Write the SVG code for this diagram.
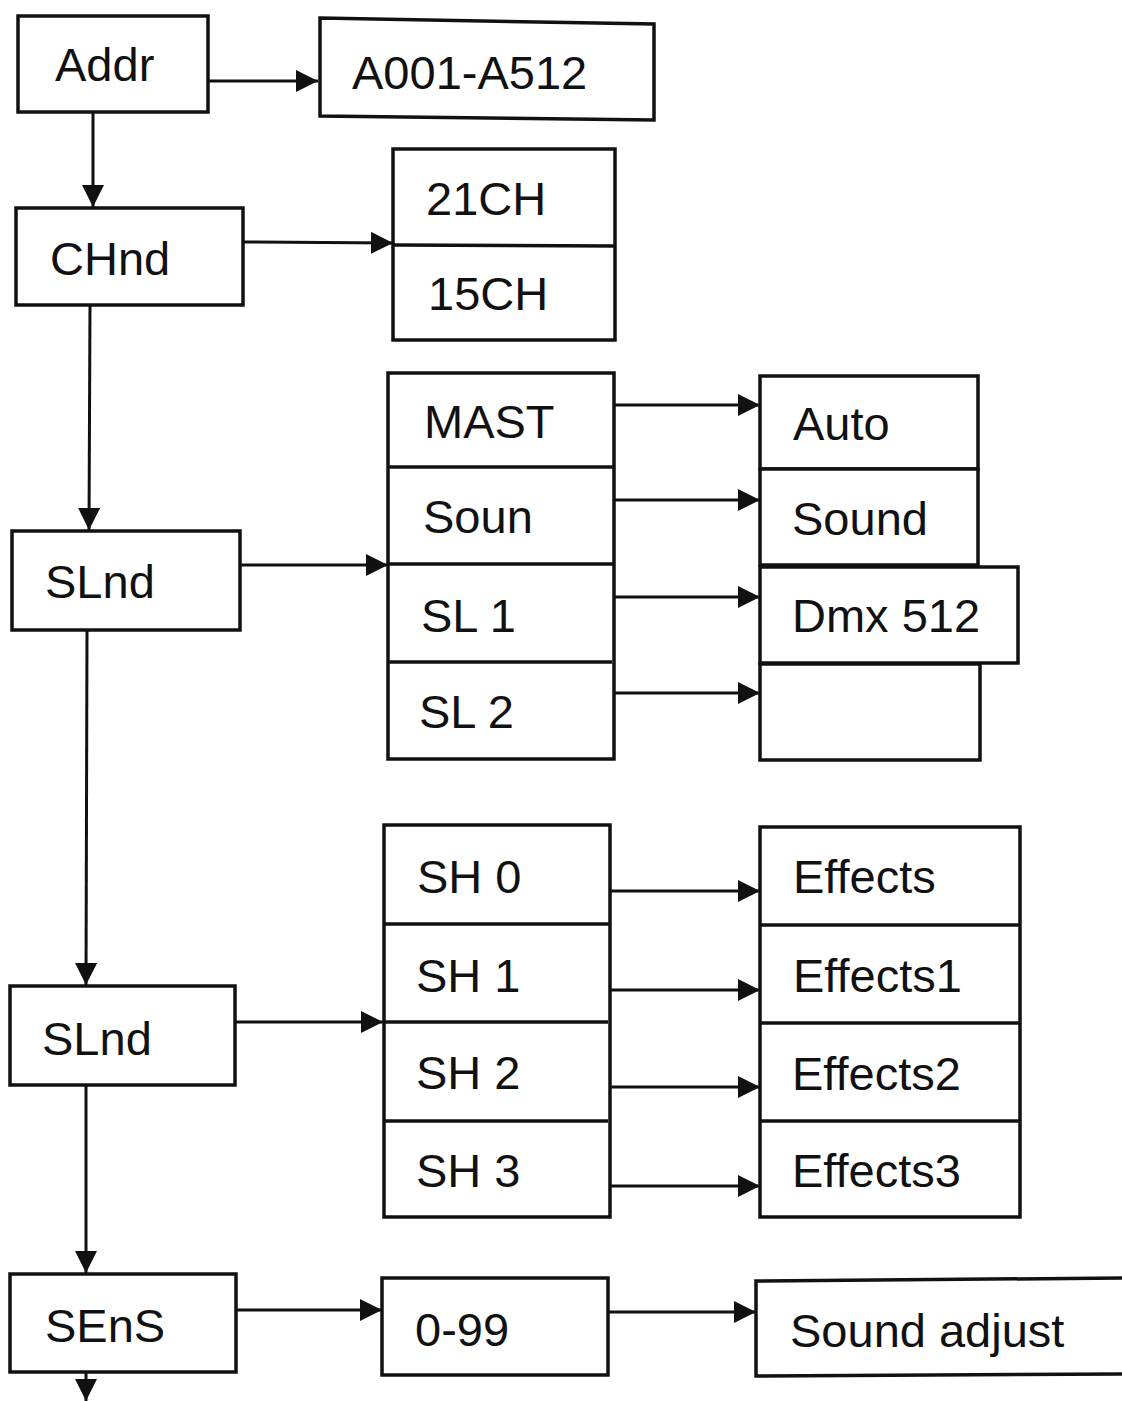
<svg xmlns="http://www.w3.org/2000/svg" width="1122" height="1401" viewBox="0 0 1122 1401">
<style>
.b{fill:#fff;stroke:#111;stroke-width:3.5}
.l{fill:none;stroke:#111;stroke-width:3.5}
.t{font-family:"Liberation Sans",Arial,sans-serif;font-size:47px;fill:#111}
.c{fill:none;stroke:#111;stroke-width:3}
</style>
<defs>
<marker id="ah" viewBox="0 0 10 10" refX="10" refY="5" markerWidth="22" markerHeight="22" markerUnits="userSpaceOnUse" orient="auto">
<path d="M0,0 L10,5 L0,10 Z" fill="#111"/>
</marker>
</defs>
<rect width="1122" height="1401" fill="#fff"/>
<g id="connectors">
<line class="c" x1="208" y1="81" x2="318" y2="81" marker-end="url(#ah)"/>
<line class="c" x1="93" y1="112" x2="93" y2="207" marker-end="url(#ah)"/>
<line class="c" x1="243" y1="242" x2="393" y2="243" marker-end="url(#ah)"/>
<line class="c" x1="90" y1="305" x2="89" y2="530" marker-end="url(#ah)"/>
<line class="c" x1="240" y1="565" x2="388" y2="565" marker-end="url(#ah)"/>
<line class="c" x1="614" y1="405" x2="760" y2="405" marker-end="url(#ah)"/>
<line class="c" x1="614" y1="500" x2="760" y2="500" marker-end="url(#ah)"/>
<line class="c" x1="614" y1="597" x2="760" y2="597" marker-end="url(#ah)"/>
<line class="c" x1="614" y1="693" x2="760" y2="693" marker-end="url(#ah)"/>
<line class="c" x1="87" y1="630" x2="86" y2="985" marker-end="url(#ah)"/>
<line class="c" x1="235" y1="1022" x2="383" y2="1022" marker-end="url(#ah)"/>
<line class="c" x1="610" y1="891" x2="760" y2="891" marker-end="url(#ah)"/>
<line class="c" x1="610" y1="990" x2="760" y2="990" marker-end="url(#ah)"/>
<line class="c" x1="610" y1="1087" x2="760" y2="1087" marker-end="url(#ah)"/>
<line class="c" x1="610" y1="1186" x2="760" y2="1186" marker-end="url(#ah)"/>
<line class="c" x1="86" y1="1085" x2="86" y2="1273" marker-end="url(#ah)"/>
<line class="c" x1="236" y1="1310" x2="382" y2="1310" marker-end="url(#ah)"/>
<line class="c" x1="608" y1="1312" x2="756" y2="1312" marker-end="url(#ah)"/>
<line class="c" x1="86" y1="1372" x2="86" y2="1401" marker-end="url(#ah)"/>
</g>
<g id="addr"><rect class="b" x="18" y="16" width="190" height="96"/><text class="t" x="55" y="81">Addr</text></g>
<g id="a001"><path class="b" d="M320,18 L654,24 L654,120 L320,116 Z"/><text class="t" x="352" y="89">A001-A512</text></g>
<g id="chnd"><rect class="b" x="16" y="208" width="227" height="97"/><text class="t" x="50" y="275">CHnd</text></g>
<g id="ch"><rect class="b" x="393" y="149" width="222" height="191"/><line class="l" x1="393" y1="245" x2="615" y2="246"/><text class="t" x="426" y="215">21CH</text><text class="t" x="428" y="310">15CH</text></g>
<g id="slnd1"><rect class="b" x="12" y="531" width="228" height="99"/><text class="t" x="45" y="598">SLnd</text></g>
<g id="mast"><rect class="b" x="388" y="373" width="226" height="386"/>
<line class="l" x1="388" y1="467" x2="614" y2="467"/><line class="l" x1="388" y1="564" x2="613" y2="564"/><line class="l" x1="387" y1="662" x2="612" y2="662"/>
<text class="t" x="424" y="438">MAST</text><text class="t" x="423" y="533">Soun</text><text class="t" x="421" y="632">SL 1</text><text class="t" x="419" y="728">SL 2</text></g>
<g id="modes">
<rect class="b" x="760" y="376" width="218" height="93"/><text class="t" x="793" y="440">Auto</text>
<rect class="b" x="760" y="469" width="218" height="96"/><text class="t" x="792" y="535">Sound</text>
<rect class="b" x="760" y="664" width="220" height="96"/>
<rect class="b" x="760" y="567" width="258" height="96"/><text class="t" x="792" y="632">Dmx 512</text>
</g>
<g id="slnd2"><rect class="b" x="10" y="986" width="225" height="99"/><text class="t" x="42" y="1055">SLnd</text></g>
<g id="sh"><rect class="b" x="384" y="825" width="226" height="392"/>
<line class="l" x1="384" y1="924" x2="609" y2="924"/><line class="l" x1="383" y1="1022" x2="608" y2="1022"/><line class="l" x1="383" y1="1121" x2="608" y2="1121"/>
<text class="t" x="417" y="893">SH 0</text><text class="t" x="416" y="992">SH 1</text><text class="t" x="416" y="1089">SH 2</text><text class="t" x="416" y="1187">SH 3</text></g>
<g id="effects"><rect class="b" x="760" y="827" width="260" height="390"/>
<line class="l" x1="760" y1="925" x2="1020" y2="925"/><line class="l" x1="760" y1="1023" x2="1020" y2="1023"/><line class="l" x1="760" y1="1121" x2="1020" y2="1121"/>
<text class="t" x="793" y="893">Effects</text><text class="t" x="793" y="992">Effects1</text><text class="t" x="792" y="1090">Effects2</text><text class="t" x="792" y="1187">Effects3</text></g>
<g id="sens"><rect class="b" x="10" y="1274" width="226" height="98"/><text class="t" x="45" y="1342">SEnS</text></g>
<g id="n099"><rect class="b" x="382" y="1278" width="226" height="97"/><text class="t" x="415" y="1346">0-99</text></g>
<g id="adjust"><path class="b" d="M1125,1278 L756,1281 L756,1376 L1125,1374"/><text class="t" x="790" y="1347">Sound adjust</text></g>
</svg>
